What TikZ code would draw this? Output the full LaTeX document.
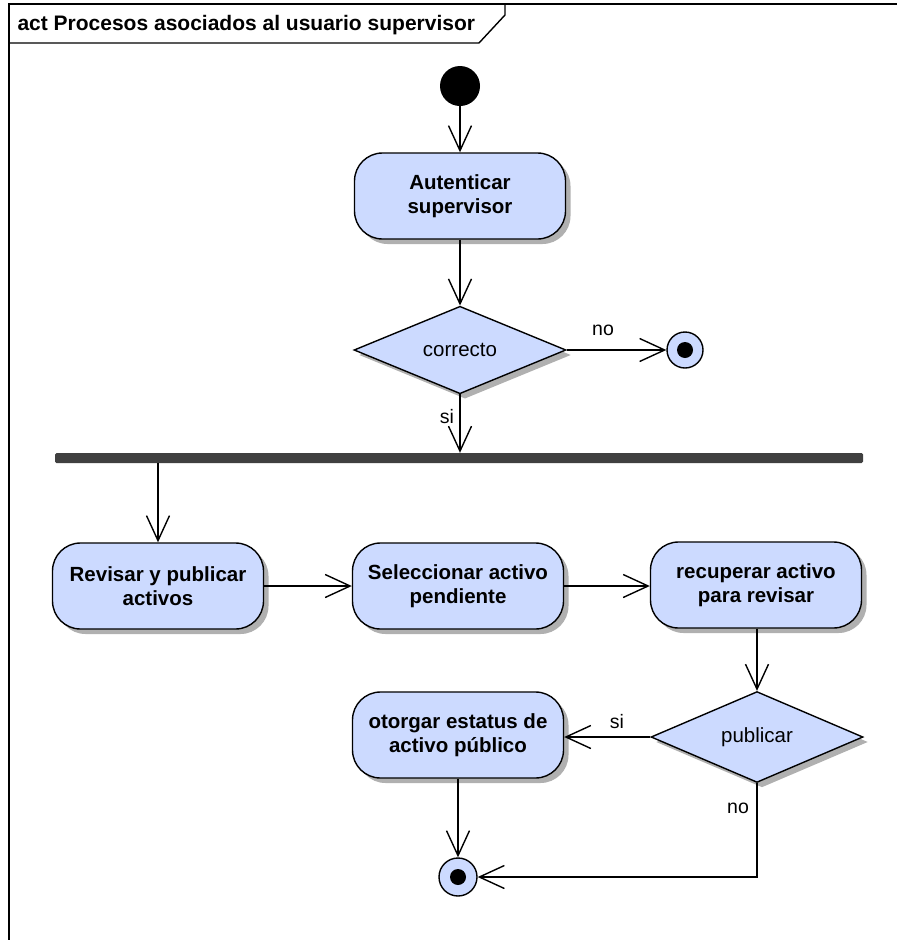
\documentclass[tikz,border=0pt]{standalone}
\usepackage{fontspec}
\setmainfont{Liberation Sans}
\usetikzlibrary{arrows.meta,shapes.geometric,shadows}
\definecolor{actfill}{RGB}{204,218,255}
\definecolor{shadowgray}{RGB}{176,176,176}
\definecolor{bargray}{RGB}{64,64,64}
\tikzset{
  every node/.style={font=\fontsize{19}{23}\selectfont},
  shade/.style={drop shadow={shadow xshift=5pt,shadow yshift=-5pt,fill=shadowgray,opacity=1}},
  action/.style={draw,line width=1.4pt,fill=actfill,rounded corners=28pt,shade,
    minimum width=211pt,minimum height=86pt,align=center,
    font=\fontsize{20.5}{24}\selectfont\bfseries},
  decision/.style={draw,line width=1.4pt,fill=actfill,diamond,shade,inner sep=0pt,
    minimum width=212pt,minimum height=86pt,font=\fontsize{20.5}{24}\selectfont},
  startnode/.style={circle,fill=black,minimum size=40pt,inner sep=0pt},
  endnode/.style={circle,draw,line width=1.4pt,fill=actfill,minimum size=36pt,inner sep=0pt,
    path picture={\fill[black] (path picture bounding box.center) circle (8pt);}},
  guard/.style={font=\fontsize{19.5}{23}\selectfont},
  arr/.style={line width=1.4pt,-{Straight Barb[length=25pt,width=23pt,line width=1.4pt]}},
}
\begin{document}
\begin{tikzpicture}[x=1pt,y=-1pt]
\useasboundingbox (0,0) rectangle (897,940);
% activity frame with its name tab
\draw[line width=1.4pt] (9,940) -- (9,4) -- (897,4);
\draw[line width=1.4pt] (9,43) -- (479,43) -- (505,15) -- (505,4);
\node[anchor=west,font=\fontsize{21}{24}\selectfont\bfseries] (title) at (14,25)
  {act Procesos asociados al usuario supervisor};

% nodes
\node[startnode] (ini) at (460,86) {};
\node[action] (auth) at (460,196) {Autenticar\\supervisor};
\node[decision] (corr) at (460,350) {correcto};
\node[endnode] (fin1) at (685,350) {};
\fill[bargray,rounded corners=1.5pt] (55,453) rectangle (863,463);
\node[inner sep=0pt,minimum width=808pt,minimum height=10pt] (bar) at (459,458) {};
\node[action] (rev) at (158,586) {Revisar y publicar\\activos};
\node[action] (sel) at (458,586) {Seleccionar activo\\pendiente};
\node[action] (rec) at (756,585) {recuperar activo\\para revisar};
\node[decision] (pub) at (757,737) {publicar};
\node[action] (oto) at (458,735) {otorgar estatus de\\activo público};
\node[endnode,minimum size=38pt] (fin2) at (458,877) {};

% guard labels
\node[guard] (lno1) at (603,330) {no};
\node[guard] (lsi1) at (447,417) {si};
\node[guard] (lsi2) at (617,722) {si};
\node[guard] (lno2) at (738,808) {no};

% transitions
\draw[arr] (ini) -- (auth);
\draw[arr] (auth) -- (corr);
\draw[arr] (corr.east) -- (fin1);
\draw[arr] (corr.south) -- (corr.south |- bar.north);
\draw[arr] (rev.north |- bar.south) -- (rev.north);
\draw[arr] (rev) -- (sel);
\draw[arr] (sel.east) -- (rec.west |- sel.east);
\draw[arr] (rec.south -| pub.north) -- (pub.north);
\draw[arr] (pub.west) -- (oto.east |- pub.west);
\draw[arr] (oto) -- (fin2);
\draw[arr] (pub.south) |- (fin2.east);
\end{tikzpicture}
\end{document}
